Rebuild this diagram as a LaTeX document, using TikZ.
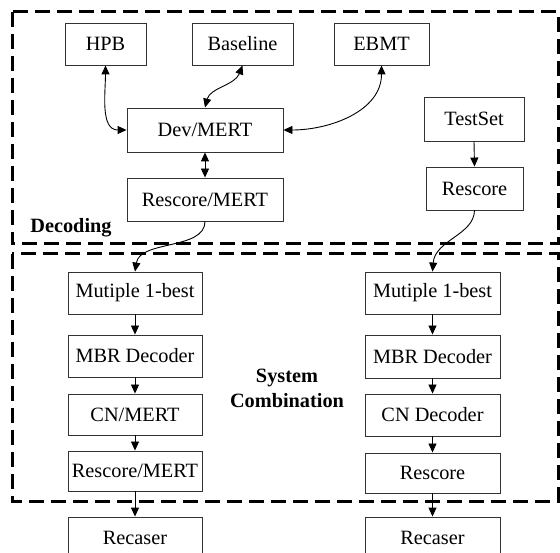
\documentclass[tikz,border=0pt]{standalone}
\usepackage{fontspec}
\setmainfont{Liberation Serif}
\usetikzlibrary{arrows.meta}
\tikzset{
  box/.style={draw=black!80, line width=0.9pt, inner sep=0pt, anchor=center,
    font=\fontsize{20.3}{22}\selectfont},
  conn/.style={line width=0.9pt, -{Triangle[length=9pt,width=8pt]}},
  dconn/.style={line width=0.9pt, {Triangle[length=9pt,width=8pt]}-{Triangle[length=9pt,width=8pt]}},
  region/.style={line width=3pt, dash pattern=on 15pt off 7pt},
  lbl/.style={font=\bfseries\fontsize{20.3}{25}\selectfont, align=center, inner sep=0pt}
}
\begin{document}
\begin{tikzpicture}[x=1pt,y=-1pt]
\clip (0,0) rectangle (560,553);
\fill[white] (0,0) rectangle (560,553);
% regions
\draw[region] (12,12) rectangle (558,244);
\draw[region] (12,254) rectangle (558,501);
% decoding nodes
\node[box, minimum width=81pt, minimum height=42pt] (hpb) at (105.5,44) {HPB};
\node[box, minimum width=101pt, minimum height=42pt] (base) at (242.5,44) {Baseline};
\node[box, minimum width=95pt, minimum height=42pt] (ebmt) at (381.5,44) {EBMT};
\node[box, minimum width=156pt, minimum height=44pt] (dev) at (205,130) {Dev/MERT};
\node[box, minimum width=156pt, minimum height=43pt] (rsm) at (205,199.5) {Rescore/MERT};
\node[box, minimum width=100pt, minimum height=44pt] (test) at (474,119) {TestSet};
\node[box, minimum width=97pt, minimum height=43pt] (rs) at (474.5,188.5) {Rescore};
\node[lbl] (dec) at (71,228) {Decoding};
% combination, left
\node[box, minimum width=134pt, minimum height=42pt] (lm) at (135,293) {Mutiple 1-best};
\node[box, minimum width=134pt, minimum height=42pt] (lmbr) at (135,356) {MBR Decoder};
\node[box, minimum width=134pt, minimum height=41pt] (lcn) at (135,414.5) {CN/MERT};
\node[box, minimum width=134pt, minimum height=40pt] (lrs) at (135,471) {Rescore/MERT};
\node[box, minimum width=134pt, minimum height=42pt] (lrc) at (135,538) {Recaser};
% combination, right
\node[box, minimum width=135pt, minimum height=42pt] (rm) at (432.5,293) {Mutiple 1-best};
\node[box, minimum width=135pt, minimum height=43pt] (rmbr) at (432.5,356.5) {MBR Decoder};
\node[box, minimum width=135pt, minimum height=42pt] (rcn) at (432.5,415) {CN Decoder};
\node[box, minimum width=135pt, minimum height=40pt] (rrs) at (432.5,473) {Rescore};
\node[box, minimum width=135pt, minimum height=42pt] (rrc) at (432.5,538) {Recaser};
\node[lbl] (sc) at (287,388) {System\\Combination};
% connectors
\draw[dconn] (hpb.south) to[out=-90,in=180] (dev.west);
\draw[dconn] (base.south) .. controls (235,85) and (210,88) .. (dev.north);
\draw[dconn] (ebmt.south) to[out=-90,in=0] (dev.east);
\draw[dconn] (dev.south) -- (rsm.north);
\draw[conn] (test.south) -- (rs.north);
\draw[conn] (rsm.south) .. controls (205,250) and (140,240) .. (lm.north);
\draw[conn] (rs.south) .. controls (474,235) and (435,240) .. (rm.north);
\draw[conn] (lm) -- (lmbr);
\draw[conn] (lmbr) -- (lcn);
\draw[conn] (lcn) -- (lrs);
\draw[conn] (lrs) -- (lrc);
\draw[conn] (rm) -- (rmbr);
\draw[conn] (rmbr) -- (rcn);
\draw[conn] (rcn) -- (rrs);
\draw[conn] (rrs) -- (rrc);
\end{tikzpicture}
\end{document}
